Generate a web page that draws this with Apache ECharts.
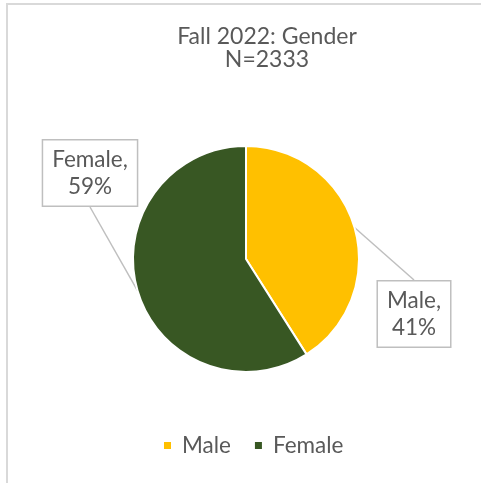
<!DOCTYPE html>
<html>
<head>
<meta charset="utf-8">
<script src="https://cdn.jsdelivr.net/npm/echarts@6/dist/echarts.min.js"></script>
<style>
  html, body { margin: 0; padding: 0; background: #fff; overflow: hidden; }
  #frame {
    position: absolute; left: 6px; top: 3px; width: 600px; height: 600px;
    border-left: 2px solid #d9d9d9; border-top: 2px solid #d9d9d9;
  }
  #chart { position: absolute; left: 0; top: 0; width: 481px; height: 483px; }
</style>
</head>
<body>
<div id="frame"></div>
<div id="chart"></div>
<script>
// 性别分布
const categories = ['Male', 'Female']
const values = [41, 59]
const colors = ['#FFC000', '#385723']
const titleLines = ['Fall 2022: Gender', 'N=2333']

// label box centres (layout only)
const labelPos = [[414, 314], [90, 173]]

const chartDom = document.getElementById('chart')
const myChart = echarts.init(chartDom)
const textColor = '#595959'
const font = 'Lato, "Open Sans", sans-serif'

const option = {
  title: {
    text: titleLines.join('\n'),
    left: 262,
    textAlign: 'center',
    top: 20,
    textStyle: {
      fontFamily: font,
      fontWeight: 'normal',
      fontSize: 23,
      lineHeight: 23,
      color: textColor
    }
  },
  legend: {
    bottom: 21,
    left: 157,
    itemWidth: 9,
    itemHeight: 9,
    itemGap: 22,
    icon: 'rect',
    textStyle: { fontFamily: font, fontSize: 22.5, color: textColor, padding: [0, 0, 0, 5] }
  },
  series: [
    {
      type: 'pie',
      radius: 113,
      center: [246, 259],
      startAngle: 90,
      clockwise: true,
      itemStyle: { borderColor: '#fff', borderWidth: 2 },
      label: {
        show: true,
        position: 'outside',
        formatter: p => p.name + ',\n' + p.value + '%',
        fontFamily: font,
        fontSize: 22.5,
        lineHeight: 27,
        color: textColor,
        backgroundColor: '#fff',
        borderColor: '#bfbfbf',
        borderWidth: 1.5,
        padding: [6, 9, 5, 9],
        align: 'center'
      },
      labelLine: {
        show: true,
        length: 0,
        length2: 0,
        lineStyle: { color: '#bfbfbf', width: 1.5 }
      },
      labelLayout: params => {
        const pos = labelPos[params.dataIndex]
        return { x: pos[0], y: pos[1], align: 'center', verticalAlign: 'middle' }
      },
      data: categories.map((name, i) => ({
        name: name,
        value: values[i],
        itemStyle: { color: colors[i] }
      }))
    }
  ]
}
option && myChart.setOption(option)
</script>
</body>
</html>
